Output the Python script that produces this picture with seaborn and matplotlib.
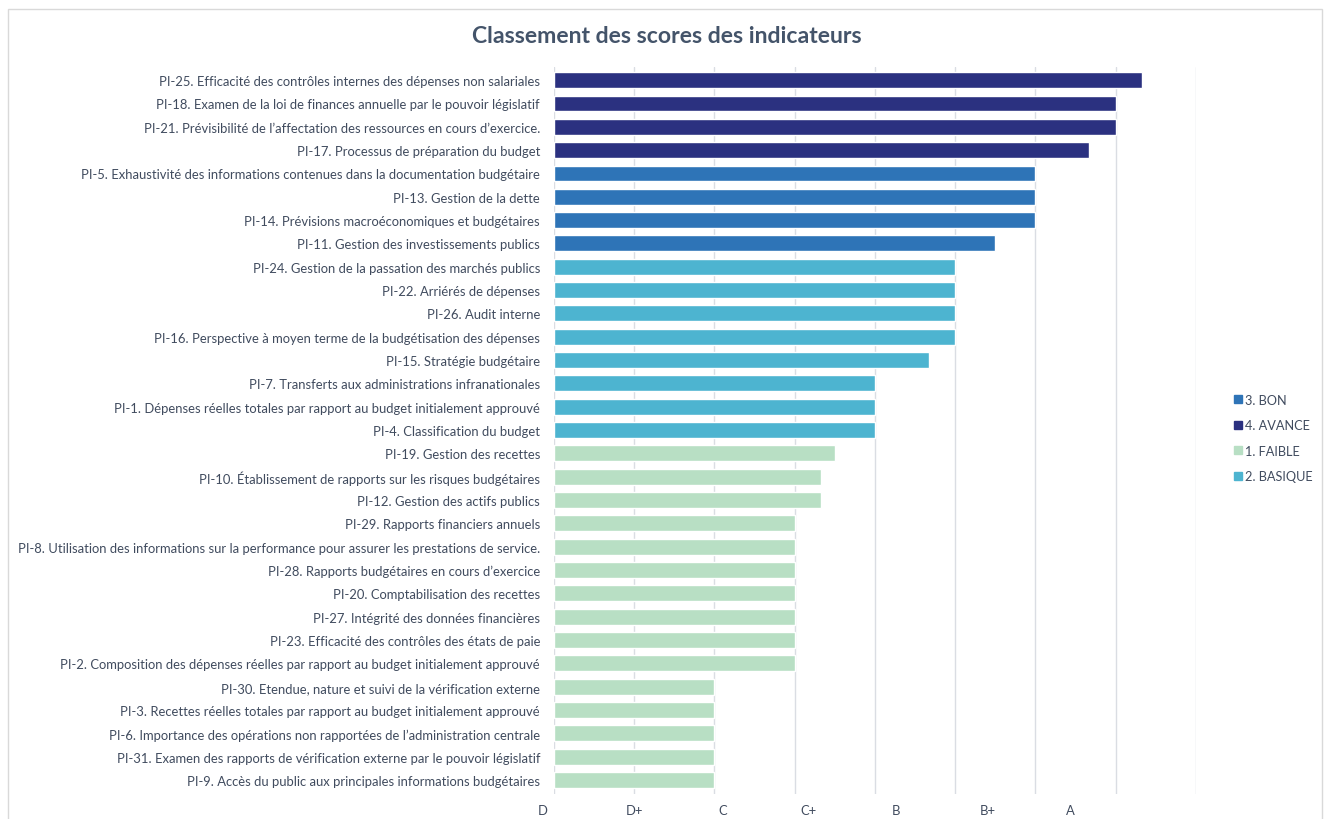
import matplotlib
matplotlib.use("Agg")
import matplotlib.pyplot as plt
from matplotlib.patches import Rectangle
from matplotlib.lines import Line2D
import seaborn as sns
import pandas as pd

# Indicators, ordered from best to weakest score
indicators = [
    "PI-25. Efficacité des contrôles internes des dépenses non salariales",
    "PI-18. Examen de la loi de finances annuelle par le pouvoir législatif",
    "PI-21. Prévisibilité de l’affectation des ressources en cours d’exercice.",
    "PI-17. Processus de préparation du budget",
    "PI-5. Exhaustivité des informations contenues dans la documentation budgétaire",
    "PI-13. Gestion de la dette",
    "PI-14. Prévisions macroéconomiques et budgétaires",
    "PI-11. Gestion des investissements publics",
    "PI-24. Gestion de la passation des marchés publics",
    "PI-22. Arriérés de dépenses",
    "PI-26. Audit interne",
    "PI-16. Perspective à moyen terme de la budgétisation des dépenses",
    "PI-15. Stratégie budgétaire",
    "PI-7. Transferts aux administrations infranationales",
    "PI-1. Dépenses réelles totales par rapport au budget initialement approuvé",
    "PI-4. Classification du budget",
    "PI-19. Gestion des recettes",
    "PI-10. Établissement de rapports sur les risques budgétaires",
    "PI-12. Gestion des actifs publics",
    "PI-29. Rapports financiers annuels",
    "PI-8. Utilisation des informations sur la performance pour assurer les prestations de service.",
    "PI-28. Rapports budgétaires en cours d’exercice",
    "PI-20. Comptabilisation des recettes",
    "PI-27. Intégrité des données financières",
    "PI-23. Efficacité des contrôles des états de paie",
    "PI-2. Composition des dépenses réelles par rapport au budget initialement approuvé",
    "PI-30. Etendue, nature et suivi de la vérification externe",
    "PI-3. Recettes réelles totales par rapport au budget initialement approuvé",
    "PI-6. Importance des opérations non rapportées de l’administration centrale",
    "PI-31. Examen des rapports de vérification externe par le pouvoir législatif",
    "PI-9. Accès du public aux principales informations budgétaires",
]

scores = [7.33, 7.0, 7.0, 6.67, 6.0, 6.0, 6.0, 5.5, 5.0, 5.0, 5.0, 5.0, 4.67,
          4.0, 4.0, 4.0, 3.5, 3.33, 3.33, 3.0, 3.0, 3.0, 3.0, 3.0, 3.0, 3.0,
          2.0, 2.0, 2.0, 2.0, 2.0]

levels = (["4. AVANCE"] * 4 + ["3. BON"] * 4 + ["2. BASIQUE"] * 8
          + ["1. FAIBLE"] * 15)

legend_order = ["3. BON", "4. AVANCE", "1. FAIBLE", "2. BASIQUE"]
level_colors = {
    "4. AVANCE": "#2B3180",
    "3. BON": "#2E74B7",
    "2. BASIQUE": "#4DB4D0",
    "1. FAIBLE": "#B8DFC4",
}

grade_labels = ["D", "D+", "C", "C+", "B", "B+", "A"]
grade_positions = [-0.14, 1.0, 2.1, 3.17, 4.26, 5.4, 6.44]

df = pd.DataFrame({"indicateur": indicators, "score": scores, "niveau": levels})

sns.set_theme(style="white")
plt.rcParams["font.family"] = ["Lato", "DejaVu Sans"]

text_color = "#404B5E"

fig = plt.figure(figsize=(13.3, 8.2), dpi=100)
ax = fig.add_axes([0.4165, 0.0305, 0.4827, 0.8865])

sns.barplot(data=df, y="indicateur", x="score", hue="niveau",
            hue_order=legend_order, palette=level_colors, dodge=False,
            orient="h", width=0.68, ax=ax, legend=False, saturation=1)

ax.set_xlim(0, 8)
ax.set_ylim(len(indicators) - 0.4, -0.56)
ax.set_xticks(range(0, 9))
ax.set_xticklabels([])
ax.tick_params(axis="x", length=0)
ax.grid(axis="x", color="#DADDE3", linewidth=1.0)
ax.set_axisbelow(True)
for s in ax.spines.values():
    s.set_visible(False)
ax.set_xlabel("")
ax.set_ylabel("")
ax.tick_params(axis="y", length=0, pad=10, labelsize=9.4, labelcolor=text_color)

for pos, lab in zip(grade_positions, grade_labels):
    ax.text(pos, len(indicators) - 0.4 + 0.68, lab, ha="center", va="center",
            fontsize=9.4, color=text_color)

fig.text(0.501, 0.955, "Classement des scores des indicateurs", ha="center",
         va="center", fontsize=16.6, fontweight="bold", color="#44546A")

handles = [Line2D([0], [0], marker="s", linestyle="", markersize=6,
                  markerfacecolor=level_colors[k], markeredgecolor=level_colors[k])
           for k in legend_order]
fig.legend(handles, legend_order, loc="center left",
           bbox_to_anchor=(0.918, 0.4646), frameon=False, fontsize=9.2,
           labelcolor=text_color, handletextpad=0.2, labelspacing=1.05,
           handlelength=0.8)

fig.add_artist(Rectangle((8 / 1330, -0.01), 1314 / 1330, 1.0 - 10 / 820 + 0.01,
                         transform=fig.transFigure, fill=False,
                         edgecolor="#D9D9D9", linewidth=1.0))

fig.savefig("out.png", dpi=100, facecolor="white")
